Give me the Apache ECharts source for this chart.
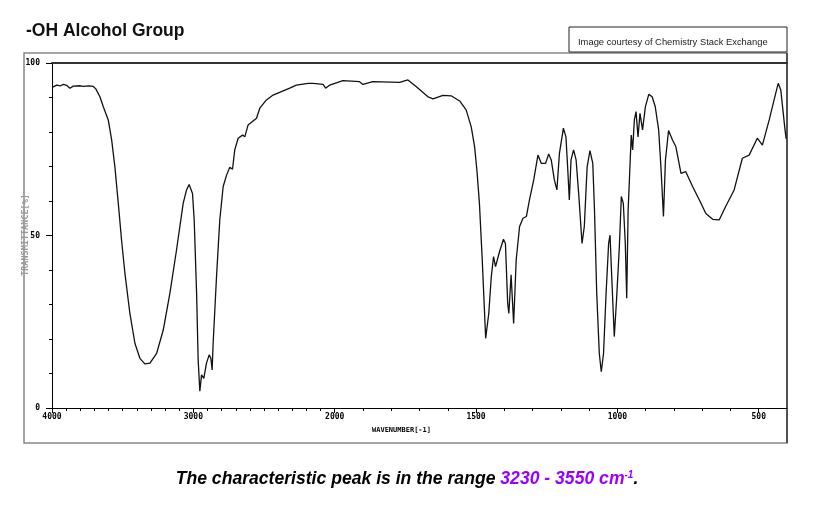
<!DOCTYPE html>
<html>
<head>
<meta charset="utf-8">
<script src="https://cdn.jsdelivr.net/npm/echarts@6/dist/echarts.min.js"></script>
<style>
  html, body { margin: 0; padding: 0; background: #fff; }
  #chart { width: 828px; height: 521px; }
</style>
</head>
<body>
<div id="chart"></div>
<script>
// IR spectrum (wavenumber in cm-1, transmittance in %)
const wavenumbers = [
  3995, 3967, 3940, 3920, 3895, 3873, 3850, 3837, 3800, 3779, 3740, 3708, 3690,
  3661, 3637, 3602, 3578, 3555, 3531, 3508, 3484, 3449, 3413, 3378, 3343, 3307,
  3260, 3213, 3166, 3119, 3072, 3048, 3030, 3006, 2994, 2977, 2966, 2954, 2942,
  2926, 2907, 2888, 2876, 2867, 2860, 2836, 2813, 2789, 2765, 2742, 2723, 2707,
  2683, 2652, 2636, 2613, 2553, 2530, 2483, 2436, 2318, 2271, 2188, 2153, 2082,
  2064, 2035, 1971, 1912, 1900, 1865, 1770, 1741, 1711, 1670, 1652, 1617, 1588,
  1558, 1535, 1517, 1505, 1497, 1488, 1478, 1466, 1455, 1446, 1438, 1431, 1417,
  1403, 1396, 1388, 1384, 1376, 1367, 1358, 1346, 1334, 1322, 1311, 1296, 1281,
  1269, 1254, 1243, 1234, 1223, 1214, 1205, 1191, 1182, 1176, 1170, 1164, 1155,
  1146, 1137, 1125, 1117, 1107, 1097, 1087, 1081, 1073, 1064, 1057, 1049, 1040,
  1031, 1026, 1020, 1011, 1003, 993, 986, 979, 972, 967, 962, 958, 951, 946,
  940, 934, 927, 920, 911, 901, 889, 877, 866, 854, 846, 837, 830, 819, 805,
  793, 775, 758, 734, 710, 687, 663, 640, 617, 587, 558, 534, 505, 487, 463,
  440, 431, 422, 407, 403
];
const transmittance = [
  93.0, 93.6, 93.4, 93.8, 93.5, 92.7, 93.3, 93.2, 93.4, 93.2, 93.4, 93.2, 92.5,
  90.2, 87.3, 83.5, 77.7, 69.9, 59.3, 48.7, 39.0, 27.4, 18.7, 14.4, 12.8, 13.0,
  15.8, 22.6, 33.2, 45.8, 59.3, 63.2, 64.8, 62.2, 54.5, 33.3, 13.9, 4.9, 9.6,
  8.6, 13.0, 15.4, 14.4, 11.0, 18.7, 38.1, 54.5, 64.2, 67.5, 69.8, 69.2, 74.8,
  78.2, 79.1, 78.6, 82.0, 84.0, 86.9, 89.3, 90.7, 92.7, 93.6, 94.1, 94.1, 93.8,
  92.7, 93.6, 94.9, 94.6, 93.8, 94.6, 94.4, 95.1, 93.1, 90.2, 89.6, 90.6, 90.5,
  89.0, 86.4, 81.5, 75.7, 69.0, 59.3, 42.9, 20.2, 27.4, 38.1, 43.9, 41.0, 45.3,
  48.9, 47.7, 30.3, 27.4, 38.6, 24.5, 42.9, 52.6, 55.0, 55.5, 60.3, 66.1, 73.3,
  70.9, 70.9, 73.6, 71.9, 66.1, 63.2, 73.8, 81.1, 78.6, 69.9, 60.3, 71.9, 74.8,
  71.9, 62.2, 47.7, 52.6, 69.9, 74.6, 70.9, 57.4, 33.2, 15.8, 10.5, 15.8, 33.2,
  47.7, 50.1, 38.1, 20.7, 31.3, 46.8, 61.3, 59.3, 47.7, 31.8, 57.4, 65.1, 79.1, 74.8,
  83.5, 85.9, 78.6, 85.4, 80.6, 87.3, 90.9, 90.2, 87.3, 80.6, 69.9, 55.5, 71.9, 80.4, 77.7,
  75.7, 68.0, 68.5, 64.2, 60.3, 56.4, 54.7, 54.5, 58.4, 63.2, 72.4, 73.3, 78.2, 76.2, 83.5,
  91.2, 94.1, 92.2, 80.6, 78.0
];
const majorWavenumbers = [4000, 3000, 2000, 1500, 1000, 500];

// IR charts switch scale at 2000 cm-1: below it one cm-1 takes twice the room
function toAxis(wn) {
  return wn >= 2000 ? 4000 - wn : 2000 + 2 * (2000 - wn);
}
function fromAxis(u) {
  return u <= 2000 ? 4000 - u : 2000 - (u - 2000) / 2;
}

const minorTicks = [];
for (let wn = 3900; wn > 400; wn -= 100) {
  if (majorWavenumbers.indexOf(wn) < 0) minorTicks.push(toAxis(wn));
}

const points = wavenumbers.map((wn, i) => [toAxis(wn), transmittance[i]]);
const pixelFont = '"DejaVu Sans Mono", monospace';

const chart = echarts.init(document.getElementById('chart'));
chart.setOption({
  animation: false,
  backgroundColor: '#fff',
  grid: { left: 52, right: 41, top: 63, bottom: 113, show: false },
  xAxis: [
    {
      type: 'value',
      min: 0,
      max: 5200,
      interval: 1000,
      position: 'bottom',
      axisLine: { lineStyle: { color: '#000', width: 1 } },
      axisTick: {
        length: 5,
        customValues: majorWavenumbers.map(toAxis),
        lineStyle: { color: '#000' }
      },
      axisLabel: {
        customValues: majorWavenumbers.map(toAxis),
        formatter: (v) => String(Math.round(fromAxis(v))),
        color: '#000',
        fontFamily: pixelFont,
        fontWeight: 'bold',
        fontSize: 8,
        margin: 5
      },
      splitLine: { show: false }
    },
    {
      type: 'value',
      min: 0,
      max: 5200,
      position: 'bottom',
      axisLine: { show: false },
      axisTick: { length: 3, customValues: minorTicks, lineStyle: { color: '#000' } },
      axisLabel: { show: false },
      splitLine: { show: false }
    },
    {
      type: 'value',
      min: 0,
      max: 5200,
      position: 'top',
      axisLine: { lineStyle: { color: '#333', width: 2 } },
      axisTick: { show: false },
      axisLabel: { show: false },
      splitLine: { show: false }
    }
  ],
  yAxis: {
    type: 'value',
    min: 0,
    max: 100,
    interval: 50,
    axisLine: { show: true, lineStyle: { color: '#000', width: 1 } },
    axisTick: { show: true, length: 6, lineStyle: { color: '#000' } },
    minorTick: { show: true, splitNumber: 5, length: 3, lineStyle: { color: '#000' } },
    axisLabel: {
      color: '#000',
      fontFamily: pixelFont,
      fontWeight: 'bold',
      fontSize: 8,
      margin: 12
    },
    splitLine: { show: false }
  },
  series: [
    {
      type: 'line',
      data: points,
      showSymbol: false,
      smooth: false,
      lineStyle: { color: '#111', width: 1.3 }
    }
  ],
  graphic: [
    {
      type: 'rect',
      shape: { x: 24, y: 53, width: 763, height: 390 },
      style: { fill: 'none', stroke: '#888', lineWidth: 1.5 },
      z: 0
    },
    {
      type: 'line',
      shape: { x1: 787, y1: 53, x2: 787, y2: 443 },
      style: { stroke: '#000', lineWidth: 1 }
    },
    {
      type: 'rect',
      shape: { x: 569, y: 27, width: 218, height: 25 },
      style: { fill: '#fff', stroke: '#222', lineWidth: 1 }
    },
    {
      type: 'text',
      x: 578,
      y: 42,
      style: {
        text: 'Image courtesy of Chemistry Stack Exchange',
        fill: '#222',
        font: '9.4px "Liberation Sans", Arial, sans-serif',
        verticalAlign: 'middle'
      }
    },
    {
      type: 'text',
      x: 26,
      y: 31,
      style: {
        text: '-OH Alcohol Group',
        fill: '#111',
        font: 'bold 17.5px "Liberation Sans", Arial, sans-serif',
        verticalAlign: 'middle'
      }
    },
    {
      type: 'text',
      x: 372,
      y: 430,
      style: {
        text: 'WAVENUMBER[-1]',
        fill: '#000',
        font: 'bold 7px "DejaVu Sans Mono", monospace',
        verticalAlign: 'middle'
      }
    },
    {
      type: 'text',
      x: 26,
      y: 235,
      rotation: Math.PI / 2,
      style: {
        text: 'TRANSMITTANCE[%]',
        fill: '#999',
        font: 'bold 8.5px "DejaVu Sans Mono", monospace',
        align: 'center',
        verticalAlign: 'middle'
      }
    },
    {
      type: 'text',
      x: 407,
      y: 479,
      style: {
        text: '{a|The characteristic peak is in the range }{b|3230 - 3550 cm}{s|-1}{a|.}',
        align: 'center',
        verticalAlign: 'middle',
        rich: {
          a: { fill: '#000', font: 'italic bold 17.6px "Liberation Sans", Arial, sans-serif' },
          b: { fill: '#9900ff', font: 'italic bold 17.6px "Liberation Sans", Arial, sans-serif' },
          s: { fill: '#9900ff', font: 'italic bold 10px "Liberation Sans", Arial, sans-serif', verticalAlign: 'top' }
        }
      }
    }
  ]
});
</script>
</body>
</html>
